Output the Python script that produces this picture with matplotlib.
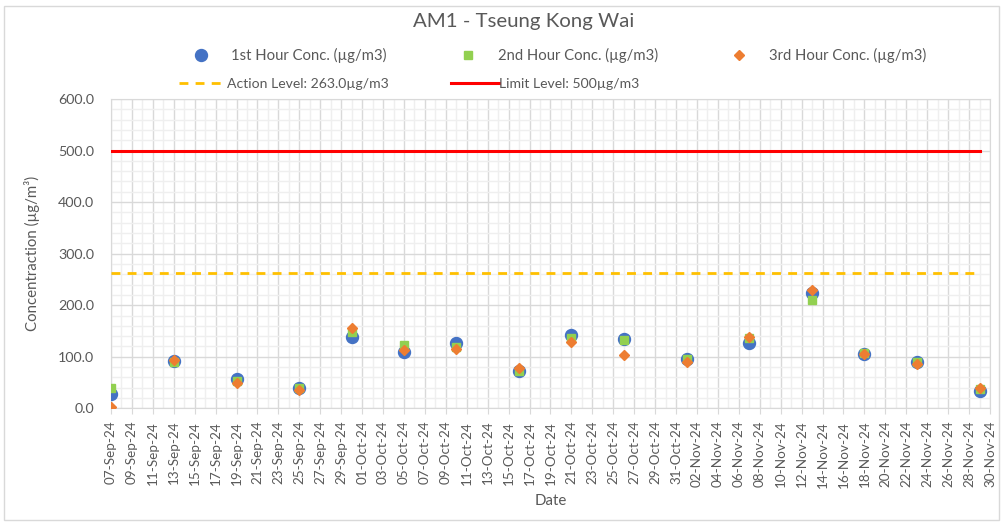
import matplotlib
matplotlib.use('Agg')
import matplotlib.pyplot as plt
import matplotlib.dates as mdates
from matplotlib.patches import Rectangle
import pandas as pd

plt.rcParams['font.family'] = ['Lato', 'DejaVu Sans']

# sampling dates and the three hourly readings (ug/m3)
dates = pd.to_datetime(['2024-09-07', '2024-09-13', '2024-09-19', '2024-09-25', '2024-09-30',
                        '2024-10-05', '2024-10-10', '2024-10-16', '2024-10-21', '2024-10-26',
                        '2024-11-01', '2024-11-07', '2024-11-13', '2024-11-18', '2024-11-23',
                        '2024-11-29'])
hour1 = [28, 91, 57, 39, 138, 110, 126, 72, 142, 135, 96, 127, 223, 105, 90, 33]
hour2 = [40, 89, 52, 39, 148, 122, 119, 72, 137, 133, 95, 136, 210, 107, 89, 37]
hour3 = [3, 94, 50, 36, 155, 114, 115, 79, 128, 104, 90, 138, 229, 106, 85, 39]

action_level = 263.0
limit_level = 500

x_start, x_end = pd.Timestamp('2024-09-07'), pd.Timestamp('2024-11-30')
major_days = pd.date_range(x_start, x_end, freq='2D')
minor_days = pd.date_range(x_start, x_end, freq='D')

txt = '#595959'
grid_major = '#d9d9d9'
grid_minor = '#efefef'

fig = plt.figure(figsize=(10.03, 5.22), dpi=100)
ax = fig.add_axes([111 / 1003, 1 - 408.3 / 522, (990 - 111) / 1003, (408.3 - 99) / 522])

ax.plot([dates[0], dates[-1]], [action_level, action_level], color='#FFC000', lw=2,
        dashes=(3.2, 2.6), label='Action Level: 263.0µg/m3', zorder=3)
ax.plot([dates[0], dates[-1]], [limit_level, limit_level], color='#FF0000', lw=2.2,
        label='Limit Level: 500µg/m3', zorder=3)

ax.plot(dates, hour1, 'o', color='#4472C4', ms=8.6, mec='#4472C4', label='1st Hour Conc. (µg/m3)', zorder=4)
ax.plot(dates, hour2, 's', color='#92D050', ms=6.2, mec='#92D050', label='2nd Hour Conc. (µg/m3)', zorder=5)
ax.plot(dates, hour3, 'D', color='#ED7D31', ms=4.6, mec='#ED7D31', label='3rd Hour Conc. (µg/m3)', zorder=6)

ax.set_xlim(x_start, x_end)
ax.set_ylim(0, 600)
ax.set_xticks(major_days)
ax.set_xticks(minor_days, minor=True)
ax.xaxis.set_major_formatter(mdates.DateFormatter('%d-%b-%y'))
ax.set_yticks(range(0, 601, 100))
ax.set_yticks(range(0, 601, 20), minor=True)
ax.yaxis.set_major_formatter(matplotlib.ticker.FormatStrFormatter('%.1f'))

ax.grid(which='major', color=grid_major, lw=1, zorder=1)
ax.grid(which='minor', color=grid_minor, lw=1, zorder=0)
ax.set_axisbelow(True)
for s in ax.spines.values():
    s.set_color(grid_major)

ax.tick_params(axis='x', which='major', direction='out', length=4, color=grid_major,
               labelrotation=90, labelsize=9.7, labelcolor=txt, pad=5)
ax.tick_params(axis='y', which='major', length=0, labelsize=10.3, labelcolor=txt, pad=12)
ax.tick_params(which='minor', length=0)

ax.set_xlabel('Date', fontsize=10.8, color=txt, labelpad=5)
ax.set_ylabel('Concentraction (µg/m³)', fontsize=10.8, color=txt, labelpad=13)

fig.text(0.522, 1 - 22 / 522, 'AM1 - Tseung Kong Wai', ha='center', va='center',
         fontsize=14.7, color=txt)

handles, labels = ax.get_legend_handles_labels()
leg1 = fig.legend(handles[2:], labels[2:], loc='center', bbox_to_anchor=(0.5545, 0.894), ncol=3,
                  frameon=False, fontsize=10.7, labelcolor=txt, handlelength=2.0,
                  handletextpad=1.0, columnspacing=4.5)
leg2 = fig.legend(handles[:2], labels[:2], loc='center', bbox_to_anchor=(0.408, 0.839), ncol=2,
                  frameon=False, fontsize=10.1, labelcolor=txt, handlelength=3.4,
                  handletextpad=0.05, columnspacing=4.4)

fig.add_artist(Rectangle((0.004, 0.004), 0.992, 0.985, transform=fig.transFigure,
                         fill=False, edgecolor=grid_major, lw=1))

fig.savefig('out.png', dpi=100)
